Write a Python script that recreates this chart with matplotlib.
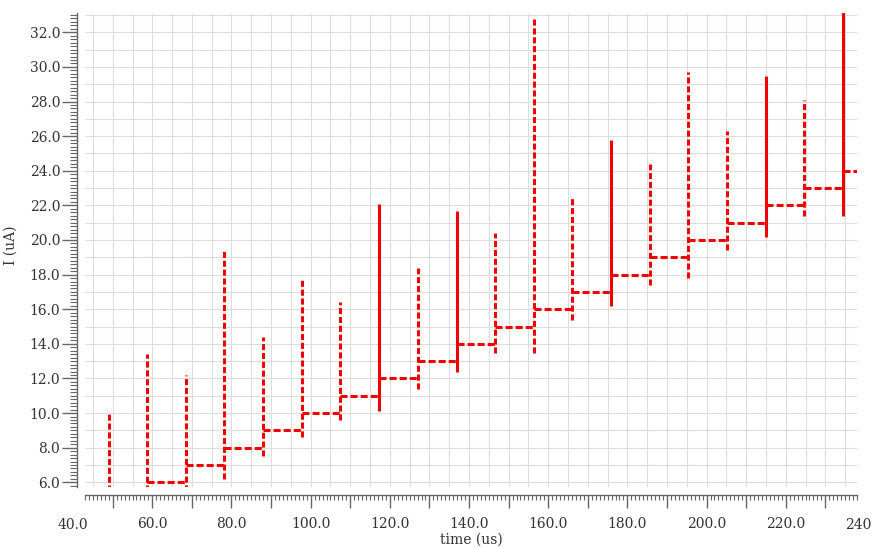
import matplotlib
matplotlib.use("Agg")
import matplotlib.pyplot as plt
import numpy as np
from matplotlib.ticker import MultipleLocator, FuncFormatter

plt.rcParams["font.family"] = ["DejaVu Serif"]

# ---- Data ----
# switching instants [us]
t_sw = [49.1, 58.7, 68.5, 78.2, 87.9, 97.7, 107.4, 117.3, 127.2, 136.9,
        146.6, 156.5, 166.1, 175.8, 185.7, 195.4, 205.1, 215.0, 224.6, 234.5]
# undershoot / overshoot of each spike [uA]
spike_lo = [5.0, 5.0, 5.5, 6.2, 7.5, 8.6, 9.6, 10.1, 11.4, 12.4,
            13.5, 13.5, 15.4, 16.2, 17.4, 17.8, 19.4, 20.2, 21.4, 21.4]
spike_hi = [10.0, 13.4, 12.2, 19.5, 14.4, 17.7, 16.4, 22.1, 18.4, 21.7,
            20.4, 32.9, 22.5, 25.8, 24.4, 29.7, 26.3, 29.5, 28.1, 34.0]
# settled level after each switch [uA]
level = [5.0, 6.0, 7.0, 8.0, 9.0, 10.0, 11.0, 12.0, 13.0, 14.0,
         15.0, 16.0, 17.0, 18.0, 19.0, 20.0, 21.0, 22.0, 23.0, 24.0]
# spikes that ring (drawn as a filled, solid stroke)
ringing = [False, False, False, False, False, False, False, True, False, True,
           False, False, False, True, False, False, False, True, False, True]
t_end = 238.0
# tick labels that fall just outside the visible time range
edge_ticks = [40.0, 240.0]

# ---- Figure ----
fig = plt.figure(figsize=(8.72, 5.48), dpi=100)
ax = fig.add_axes([0.0975, 0.1113, 0.8853, 0.8655])

ax.set_xlim(43.0, 238.0)
ax.set_ylim(5.73, 33.13)

# grid: 5 us vertical, 1 uA horizontal
grid_c = "#dddddd"
ax.vlines(np.arange(45, 240, 5), 5.73, 33.13, color=grid_c, lw=0.8, zorder=0)
ax.hlines(np.arange(6, 34, 1), 43.0, 238.0, color=grid_c, lw=0.8, zorder=0)

red = "#f20000"
t_next = t_sw[1:] + [t_end]
ax.hlines(level, t_sw, t_next, color=red, lw=2.2,
          linestyles=[(0, (2.3, 1.0))], zorder=3)
styles = ["-" if r else (0, (2.0, 0.9)) for r in ringing]
ax.vlines(t_sw, spike_lo, spike_hi, color=red, lw=2.2,
          linestyles=styles, zorder=3)

# axes styling (detached spines)
for s in ["top", "right"]:
    ax.spines[s].set_visible(False)
for s in ["left", "bottom"]:
    ax.spines[s].set_position(("outward", 5.8))
    ax.spines[s].set_color("#666666")
    ax.spines[s].set_linewidth(1.0)

ax.xaxis.set_major_locator(MultipleLocator(10))
ax.xaxis.set_minor_locator(MultipleLocator(1))
ax.xaxis.set_major_formatter(
    FuncFormatter(lambda v, _: f"{v:.1f}" if round(v) % 20 == 0 else ""))
ax.yaxis.set_major_locator(MultipleLocator(2))
ax.yaxis.set_minor_locator(MultipleLocator(0.2))
ax.yaxis.set_major_formatter(FuncFormatter(lambda v, _: f"{v:.1f}"))

ax.tick_params(axis="x", which="major", length=9, width=1.0, color="#666666",
               labelsize=10, labelcolor="#333333", pad=7)
ax.tick_params(axis="x", which="minor", length=3.6, width=0.8, color="#666666")
ax.tick_params(axis="y", which="major", length=10.5, width=1.0, color="#666666",
               labelsize=10, labelcolor="#333333", pad=1.5)
ax.tick_params(axis="y", which="minor", length=5, width=0.8, color="#666666")

# tick labels beyond the ends of the time axis
for tv in edge_ticks:
    ax.annotate(f"{tv:.1f}", xy=(tv, 0), xycoords=("data", "axes fraction"),
                xytext=(0, -22.2), textcoords="offset points",
                ha="center", va="top", fontsize=10, color="#333333",
                annotation_clip=False)

ax.set_xlabel("time (us)", fontsize=10, color="#333333")
ax.set_ylabel("I (uA)", fontsize=10, color="#333333")
ax.xaxis.set_label_coords(0.5, -0.097)
ax.yaxis.set_label_coords(-0.087, 0.51)

fig.savefig("out.png", dpi=100, facecolor="white")
